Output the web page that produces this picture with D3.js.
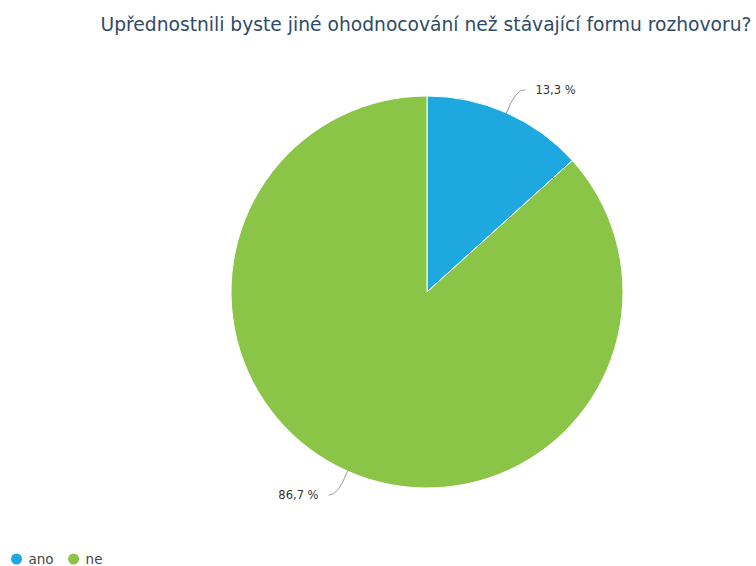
<!DOCTYPE html>
<html>
<head>
<meta charset="utf-8">
<script src="https://cdn.jsdelivr.net/npm/d3@7"></script>
<style>
  html, body { margin: 0; padding: 0; background: #fff; }
  svg { display: block; font-family: "DejaVu Sans", sans-serif; }
</style>
</head>
<body>
<svg id="chart" width="756" height="566"></svg>
<script>
// Survey answers and their shares (percent)
const categories = ["ano", "ne"];
const values = [13.3, 86.7];
const valueLabels = ["13,3 %", "86,7 %"];
const colors = ["#1ea8e0", "#8bc548"];
const title = "Upřednostnili byste jiné ohodnocování než stávající formu rozhovoru?";

const svg = d3.select("#chart");
const cx = 427, cy = 292, radius = 196;

svg.append("text")
  .attr("x", 426).attr("y", 31)
  .attr("text-anchor", "middle")
  .attr("font-size", 18.7)
  .attr("fill", "#2f4a68")
  .text(title);

const pie = d3.pie().sort(null).value(d => d)(values);
const arc = d3.arc().innerRadius(0).outerRadius(radius);

const g = svg.append("g").attr("transform", `translate(${cx},${cy})`);

g.selectAll("path.slice")
  .data(pie)
  .join("path")
  .attr("class", "slice")
  .attr("d", arc)
  .attr("fill", (d, i) => colors[i])
  .attr("stroke", "#fff")
  .attr("stroke-width", 1);

// Connector lines and value labels
pie.forEach((d, i) => {
  const mid = (d.startAngle + d.endAngle) / 2;
  const sx = Math.sin(mid), sy = -Math.cos(mid);
  const p0 = [sx * radius, sy * radius];
  const p1 = [sx * (radius + 22), sy * (radius + 22)];
  const right = sx >= 0;
  const p2 = [p1[0] + (right ? 10 : -10), p1[1] + (right ? -3 : 4)];
  g.append("path")
    .attr("d", `M${p0[0]},${p0[1]} Q${p1[0]},${p1[1] - (right ? 4 : -4)} ${p2[0]},${p2[1]}`)
    .attr("fill", "none")
    .attr("stroke", "#9a9a9a")
    .attr("stroke-width", 1);
  g.append("text")
    .attr("x", p2[0] + (right ? 10 : -10))
    .attr("y", p2[1] + 4)
    .attr("text-anchor", right ? "start" : "end")
    .attr("font-size", 11.5)
    .attr("fill", "#333")
    .text(valueLabels[i]);
});

// Legend
const legend = svg.append("g").attr("transform", "translate(16.5,559)");
let lx = 0;
categories.forEach((c, i) => {
  const item = legend.append("g").attr("transform", `translate(${lx},0)`);
  item.append("circle").attr("r", 5.5).attr("cx", 0).attr("cy", 0).attr("fill", colors[i]);
  const t = item.append("text").attr("x", 12).attr("y", 4.5)
    .attr("font-size", 13.5).attr("fill", "#444").text(c);
  lx += 12 + t.node().getComputedTextLength() + 20;
});
</script>
</body>
</html>
